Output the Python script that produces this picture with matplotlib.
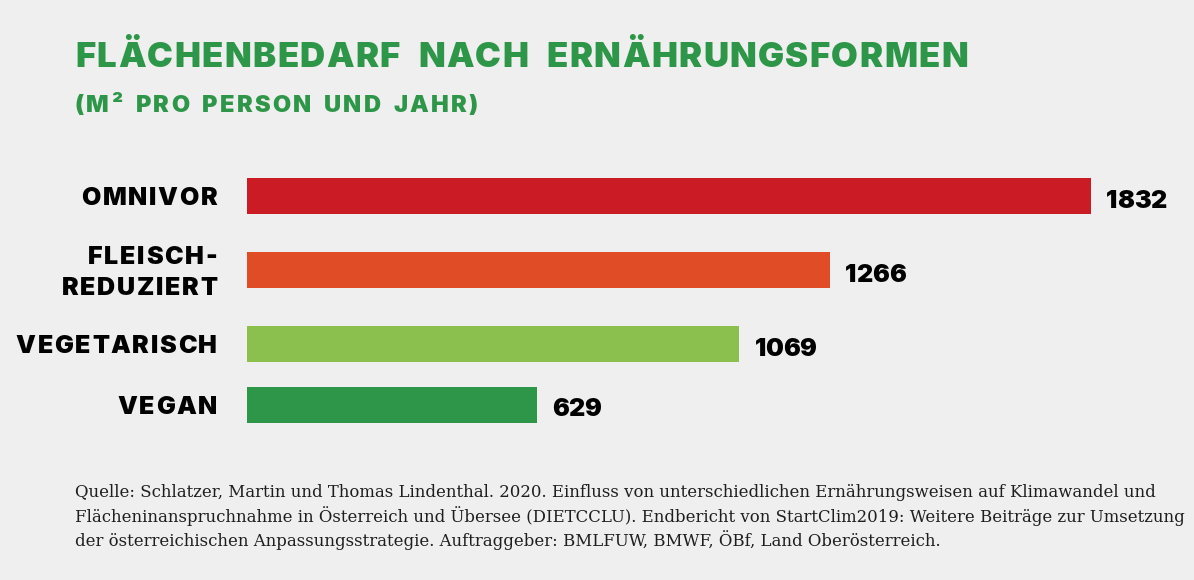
import matplotlib
matplotlib.use("Agg")
import matplotlib.pyplot as plt
from matplotlib.font_manager import FontProperties

categories = ["OMNIVOR", "FLEISCH-\nREDUZIERT", "VEGETARISCH", "VEGAN"]
values = [1832, 1266, 1069, 629]
colors = ["#cb1b24", "#e04c26", "#8bbf4e", "#2e9648"]

title = "FLÄCHENBEDARF NACH ERNÄHRUNGSFORMEN"
subtitle = "(M² PRO PERSON UND JAHR)"
source = ("Quelle: Schlatzer, Martin und Thomas Lindenthal. 2020. Einfluss von unterschiedlichen Ernährungsweisen auf Klimawandel und\n"
          "Flächeninanspruchnahme in Österreich und Übersee (DIETCCLU). Endbericht von StartClim2019: Weitere Beiträge zur Umsetzung\n"
          "der österreichischen Anpassungsstrategie. Auftraggeber: BMLFUW, BMWF, ÖBf, Land Oberösterreich.")

# layout (pixel positions of bar centres, from top)
ypos = [196, 270, 344, 405]

W, H = 1194, 580
bg = "#efefef"
green = "#2e9648"
HEAVY = "Inter"

fig = plt.figure(figsize=(W / 100, H / 100), dpi=100, facecolor=bg)
renderer = fig.canvas.get_renderer()

ax = fig.add_axes([247 / W, (H - 450) / H, 900 / W, 300 / H])
ax.set_facecolor(bg)
ax.barh(ypos, values, height=36, color=colors)
ax.set_xlim(0, 900 / 0.4607)
ax.set_ylim(450, 150)
ax.axis("off")


def tw(s, prop):
    if not s:
        return 0.0
    w, h, d = renderer.get_text_width_height_descent(s, prop, ismath=False)
    return w


def spaced(x, y_top, s, size, color, ha="left", track=0.0, space=0.0, width=None):
    """Draw letter-spaced text; x, y_top in pixels (y from top, baseline)."""
    prop = FontProperties(family=HEAVY, weight="black", size=size)
    n = len(s)
    nsp = s.count(" ")
    nat = tw(s, prop)
    if width is not None and nsp:
        space = (width - nat - track * (n - 1)) / nsp
    total = nat + track * (n - 1) + space * nsp
    x0 = x - total if ha == "right" else x
    for i, ch in enumerate(s):
        if ch == " ":
            continue
        pos = tw(s[:i + 1], prop) - tw(ch, prop) + i * track + s[:i].count(" ") * space
        fig.text((x0 + pos) / W, 1 - y_top / H, ch, fontproperties=prop,
                 color=color, ha="left", va="baseline")
    return total


# title / subtitle
spaced(75, 67, title, 25, green, track=1.4, width=893)
spaced(75, 112, subtitle, 17, green, track=2.2, width=403)

# category labels
label_track = 1.7
for y, c in zip(ypos, categories):
    lines = c.split("\n")
    if len(lines) == 1:
        spaced(217, y + 9, lines[0], 18, "black", ha="right", track=label_track)
    else:
        spaced(217, y - 6.5, lines[0], 18, "black", ha="right", track=label_track)
        spaced(217, y + 25, lines[1], 18, "black", ha="right", track=label_track)

# value labels
for y, v in zip(ypos, values):
    xe = ax.transData.transform((v, 0))[0]
    spaced(xe + 15, y + 11.5, f"{v}", 18, "black", track=-0.3)

fig.text(75 / W, 1 - 517 / H, source, ha="left", va="center", fontsize=11.9,
         family="DejaVu Serif", color="#1e1e1e", linespacing=1.3)

fig.savefig("out.png", dpi=100, facecolor=bg)
